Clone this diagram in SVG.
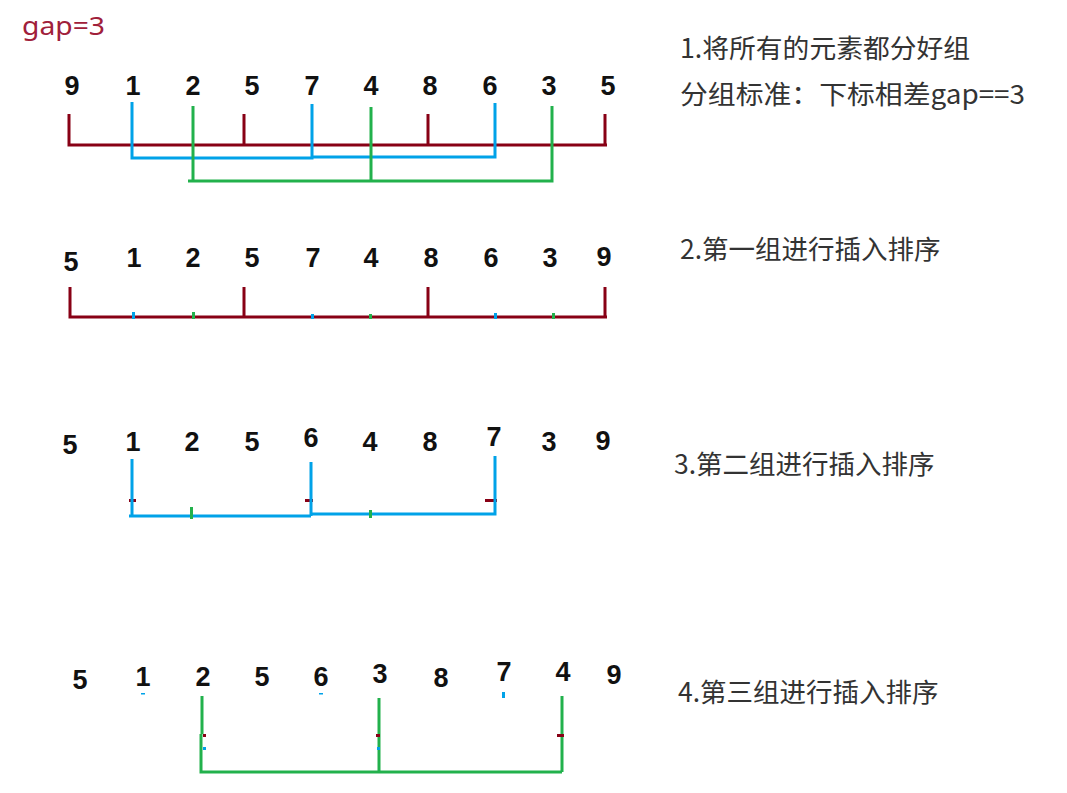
<svg xmlns="http://www.w3.org/2000/svg" width="1067" height="793" viewBox="0 0 1067 793">
<style>
.d{font-family:"Liberation Sans",Arial,sans-serif;font-weight:bold;font-size:27px;fill:#111;text-anchor:middle}
.t{font-family:"Noto Sans CJK SC","Noto Sans",sans-serif;font-size:26.5px;fill:#333}
.r{stroke:#880015;stroke-width:3;fill:none}
.b{stroke:#00A2E8;stroke-width:3;fill:none}
.g{stroke:#22B14C;stroke-width:3;fill:none}
.rt{fill:#880015}.bt{fill:#00A2E8}.gt{fill:#22B14C}
</style>
<rect width="1067" height="793" fill="#fff"/>
<g id="gap-label"><text x="22" y="35" font-family="'Noto Sans','Open Sans',sans-serif" font-size="25" fill="#A0203A" textLength="83" lengthAdjust="spacingAndGlyphs">gap=3</text></g>
<g id="row1" class="d">
<text x="72" y="95">9</text><text x="133" y="95">1</text><text x="193" y="95">2</text><text x="252" y="95">5</text><text x="312" y="95">7</text><text x="371" y="95">4</text><text x="430" y="95">8</text><text x="490" y="95">6</text><text x="549" y="95">3</text><text x="608" y="95">5</text>
</g>
<g id="row2" class="d">
<text x="71" y="271">5</text><text x="134" y="267">1</text><text x="193" y="267">2</text><text x="252" y="267">5</text><text x="313" y="267">7</text><text x="371" y="267">4</text><text x="431" y="267">8</text><text x="491" y="267">6</text><text x="550" y="267">3</text><text x="604" y="266">9</text>
</g>
<g id="row3" class="d">
<text x="70" y="454">5</text><text x="133" y="451">1</text><text x="192" y="451">2</text><text x="252" y="451">5</text><text x="311" y="447">6</text><text x="370" y="451">4</text><text x="430" y="451">8</text><text x="494" y="446">7</text><text x="549" y="451">3</text><text x="603" y="450">9</text>
</g>
<g id="row4" class="d">
<text x="80" y="689">5</text><text x="143" y="686">1</text><text x="203" y="686">2</text><text x="262" y="686">5</text><text x="321" y="686">6</text><text x="380" y="683">3</text><text x="441" y="687">8</text><text x="504" y="681">7</text><text x="563" y="681">4</text><text x="614" y="684">9</text>
</g>
<g id="step1" class="t"><text x="680" y="58" textLength="290" lengthAdjust="spacingAndGlyphs">1.将所有的元素都分好组</text><text x="680" y="104" textLength="345" lengthAdjust="spacingAndGlyphs">分组标准：下标相差gap==3</text></g>
<g id="step2" class="t"><text x="680" y="259">2.第一组进行插入排序</text></g>
<g id="step3" class="t"><text x="674" y="474">3.第二组进行插入排序</text></g>
<g id="step4" class="t"><text x="678" y="702">4.第三组进行插入排序</text></g>
<g id="connectors">
<path class="r" d="M69,114V145H607M244,114V145M428,114V145M605,114V145"/>
<path class="b" d="M132,102V158H312V104M312,157H495V103"/>
<path class="g" d="M193,106V181M188,181H552V106M371,107V181"/>
<path class="r" d="M70,287V317H607M244,287V317M428,287V317M605,287V317"/>
<rect class="bt" x="132" y="312" width="3" height="7"/><rect class="bt" x="311" y="314" width="3" height="5"/><rect class="bt" x="494" y="313" width="3" height="6"/>
<rect class="gt" x="192" y="312" width="3" height="7"/><rect class="gt" x="369" y="314" width="3" height="5"/><rect class="gt" x="552" y="313" width="3" height="6"/>
<rect class="rt" x="129" y="499" width="7" height="3"/><rect class="rt" x="305" y="499" width="8" height="3"/><rect class="rt" x="485" y="499" width="12" height="3"/>
<path class="b" d="M132,459V516M129,516H311M311,462V516M311,514H495V456"/>
<rect class="gt" x="190" y="507" width="3" height="12"/><rect class="gt" x="369" y="510" width="3" height="8"/>
<rect class="bt" x="141" y="693" width="4" height="1.5"/><rect class="bt" x="319" y="693" width="4" height="1.5"/><rect class="bt" x="502" y="692" width="3" height="6"/>
<path class="g" d="M202,696V734M201,734V772H562M379,698V772M562,696V772"/>
<rect class="rt" x="203" y="734" width="3" height="3"/><rect class="rt" x="376" y="734" width="4" height="3"/><rect class="rt" x="557" y="734" width="7" height="3"/>
<rect class="bt" x="203" y="747" width="3" height="3"/><rect class="bt" x="377" y="747" width="3" height="3"/>
</g>
</svg>
